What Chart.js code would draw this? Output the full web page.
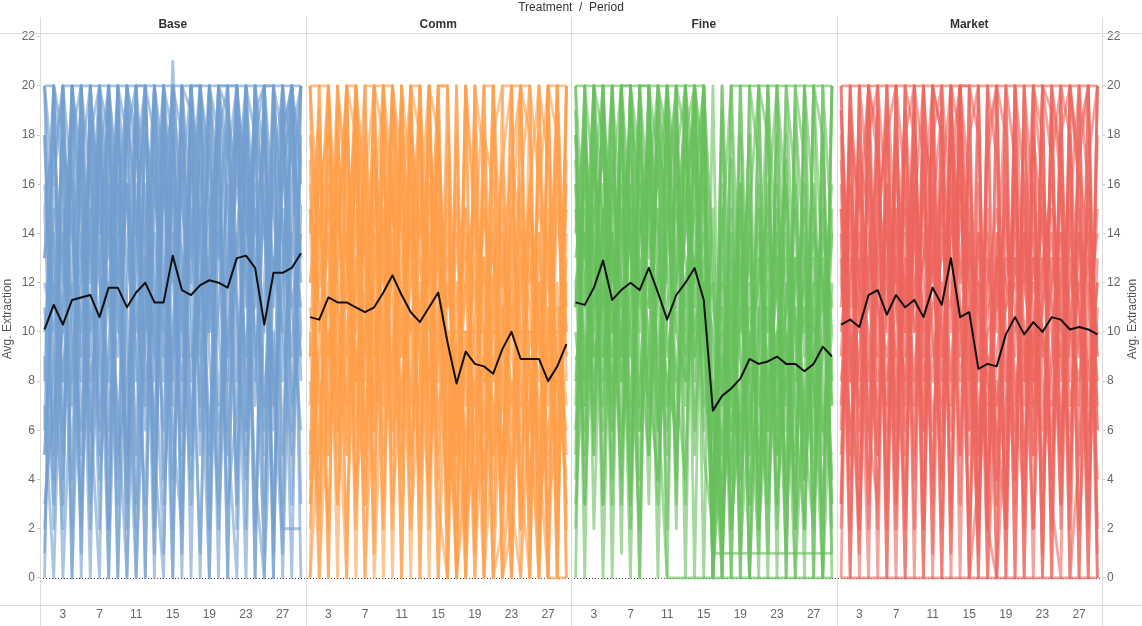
<!DOCTYPE html>
<html>
<head>
<meta charset="utf-8">
<script src="https://cdn.jsdelivr.net/npm/chart.js@4.4.1/dist/chart.umd.min.js"></script>
<style>
  html, body { margin: 0; padding: 0; background: #fff; }
  #wrap { width: 1142px; height: 626px; position: relative; }
</style>
</head>
<body>
<div id="wrap"><canvas id="chart"></canvas></div>
<script>
// treatments and periods
const treatments = ['Base', 'Comm', 'Fine', 'Market'];
const periods = [1,2,3,4,5,6,7,8,9,10,11,12,13,14,15,16,17,18,19,20,21,22,23,24,25,26,27,28,29];
const periodTicks = [3, 7, 11, 15, 19, 23, 27];
const yTicks = [0, 2, 4, 6, 8, 10, 12, 14, 16, 18, 20, 22];

// average extraction per treatment (black lines)
const avgBase   = [10.1,11.1,10.3,11.3,11.4,11.5,10.6,11.8,11.8,11.0,11.6,12.0,11.2,11.2,13.1,11.7,11.5,11.9,12.1,12.0,11.8,13.0,13.1,12.6,10.3,12.4,12.4,12.6,13.2];
const avgComm   = [10.6,10.5,11.4,11.2,11.2,11.0,10.8,11.0,11.6,12.3,11.5,10.8,10.4,11.0,11.6,9.6,7.9,9.2,8.7,8.6,8.3,9.3,10.0,8.9,8.9,8.9,8.0,8.6,9.5];
const avgFine   = [11.2,11.1,11.8,12.9,11.3,11.7,12.0,11.7,12.6,11.6,10.5,11.5,12.0,12.6,11.3,6.8,7.4,7.7,8.1,8.9,8.7,8.8,9.0,8.7,8.7,8.4,8.7,9.4,9.0];
const avgMarket = [10.3,10.5,10.2,11.5,11.7,10.7,11.5,11.0,11.3,10.6,11.8,11.1,13.0,10.6,10.8,8.5,8.7,8.6,9.9,10.6,9.9,10.4,10.0,10.6,10.5,10.1,10.2,10.1,9.9];

// individual subjects, Base
const base01 = [13,17,20,20,20,20,20,20,20,20,20,20,20,20,20,20,20,20,20,20,20,20,20,20,20,20,20,20,20];
const base02 = [5,12,8,15,10,14,6,12,9,16,11,7,14,10,21,13,8,15,12,6,10,14,9,16,3,12,15,11,14];
const base03 = [20,20,4,18,20,9,20,15,3,20,17,20,8,20,12,20,19,6,20,14,20,20,11,20,5,20,18,20,16];
const base04 = [2,9,15,0,12,18,7,20,11,5,16,0,19,8,14,3,17,10,0,15,8,19,12,4,0,10,2,2,2];
const base05 = [9,3,11,17,6,14,20,2,16,9,0,13,5,18,7,20,11,1,14,19,6,0,17,9,12,20,8,14,20];
const base06 = [15,18,12,20,16,10,13,19,14,20,8,18,16,11,20,15,12,20,17,13,19,16,20,14,18,12,20,17,15];
const base07 = [18,6,20,10,2,19,12,8,20,4,14,20,10,1,17,9,20,5,13,20,15,3,20,8,16,2,19,11,6];
const base08 = [5,14,8,13,18,3,10,16,0,12,20,6,15,20,4,12,16,20,9,3,18,11,5,20,14,7,12,20,10];
const base09 = [12,10,14,7,13,17,9,5,18,13,10,15,3,16,12,8,14,17,10,20,12,16,13,7,20,15,10,5,18];
const base10 = [20,12,5,20,8,15,2,18,12,16,5,19,12,6,18,11,3,15,20,10,5,14,19,2,11,16,20,13,9];
const base11 = [8,20,16,4,20,12,17,0,13,19,15,9,20,13,8,17,6,12,15,17,0,20,6,15,10,19,5,16,20];
const base12 = [3,7,10,12,5,20,15,11,7,0,12,16,9,20,15,5,20,14,6,11,16,8,14,18,7,13,10,20,12];
const base13 = [10,15,0,9,14,6,18,13,20,15,9,3,17,12,0,20,9,11,18,7,13,20,15,10,1,20,14,9,17];
const base14 = [16,11,18,14,9,20,5,15,10,18,20,12,6,17,19,10,15,7,20,16,9,13,20,18,15,8,16,20,13];
const base15 = [7,0,13,19,15,8,11,20,5,8,13,20,18,3,10,16,20,13,5,18,20,10,4,12,19,6,13,18,20];
const base16 = [13,20,6,11,20,16,4,9,19,11,2,14,20,9,16,13,4,19,15,2,11,18,8,20,14,11,20,7,10];
const base17 = [20,16,20,8,17,20,14,20,15,20,18,10,20,15,20,18,13,20,10,20,17,20,14,19,20,12,16,20,17];
const base18 = [11,5,17,16,3,11,19,6,14,2,19,8,11,20,6,2,18,9,12,14,3,7,18,13,6,17,0,14,11];
const base19 = [0,20,3,20,0,18,20,2,20,5,20,0,20,4,20,1,20,20,3,20,0,20,6,20,0,20,3,20,8];
const base20 = [20,2,20,0,20,4,17,20,0,20,3,20,2,20,0,20,5,20,0,20,20,2,20,0,20,1,20,6,20];
const base21 = [18,9,2,20,14,0,20,11,20,0,20,15,0,20,9,18,0,20,16,0,20,12,0,20,17,0,20,3,15];
const base22 = [6,20,18,2,20,7,0,20,16,3,20,20,5,0,20,6,20,10,20,4,13,20,2,18,20,8,1,20,0];
const base23 = [15,4,20,16,1,20,13,0,20,18,0,10,20,17,2,20,15,0,20,18,6,20,16,0,20,20,14,0,20];
const base24 = [1,16,10,20,17,2,20,18,4,20,14,20,1,20,18,0,20,16,2,20,19,4,20,11,20,0,18,20,3];

// individual subjects, Comm
const comm01 = [20,20,20,14,20,20,8,20,20,20,15,20,20,12,20,20,5,20,14,20,20,9,20,20,20,16,20,20,20];
const comm02 = [0,6,12,3,10,15,0,9,14,5,11,2,8,13,0,10,0,4,8,0,6,11,3,0,7,12,0,0,0];
const comm03 = [12,15,9,18,13,8,16,11,6,19,14,10,15,7,17,3,9,14,6,13,2,10,15,8,4,11,5,15,10];
const comm04 = [8,4,16,10,5,13,11,17,9,14,6,17,10,16,12,7,2,10,0,9,14,5,12,6,13,2,9,4,12];
const comm05 = [15,11,5,14,18,10,14,6,17,12,20,8,5,18,14,9,12,5,11,16,8,14,7,12,15,6,13,9,15];
const comm06 = [5,17,13,7,15,4,18,13,2,16,9,14,19,4,10,15,6,12,16,3,12,17,10,15,0,14,7,12,5];
const comm07 = [10,0,8,16,9,17,6,15,12,8,17,5,11,14,6,12,8,0,9,13,5,7,14,3,10,8,15,2,14];
const comm08 = [18,13,20,11,7,14,20,4,15,11,3,19,13,9,16,0,10,15,3,7,15,0,5,13,11,4,10,20,8];
const comm09 = [3,9,11,20,16,6,10,18,12,20,13,10,7,20,8,14,5,9,12,10,4,13,9,7,15,10,3,6,16];
const comm10 = [14,19,6,9,12,20,13,9,17,6,19,13,16,11,20,6,14,7,10,15,11,3,16,10,6,17,12,9,3];
const comm11 = [9,12,15,12,2,11,16,20,8,13,9,15,4,15,11,3,7,12,5,6,10,15,4,9,14,5,0,11,7];
const comm12 = [16,7,10,5,19,9,3,12,19,15,11,7,18,10,13,9,0,6,14,11,0,9,12,16,8,0,11,5,13];
const comm13 = [12,16,18,15,11,16,12,14,10,17,12,18,14,17,13,11,15,13,15,12,13,12,17,14,12,15,13,17,11];
const comm14 = [6,3,9,13,20,7,15,10,5,9,16,4,12,8,15,5,8,2,6,9,7,4,8,5,9,3,6,8,4];
const comm15 = [20,14,17,8,13,19,9,16,14,3,8,12,20,6,9,17,3,10,7,15,13,8,0,11,16,9,14,0,20];
const comm16 = [11,8,2,17,6,12,17,7,20,12,5,16,9,3,18,8,11,15,9,4,12,16,6,14,3,12,8,16,9];
const comm17 = [7,13,9,11,14,8,12,6,15,9,12,10,13,8,11,10,10,10,10,10,10,10,10,10,10,10,10,10,10];
const comm18 = [2,10,14,6,8,18,5,13,11,16,7,13,6,11,4,13,6,8,13,2,9,5,11,2,7,14,4,9,6];
const comm19 = [20,0,20,3,20,0,20,2,20,0,20,5,20,0,20,20,0,20,2,20,0,20,20,0,20,4,20,0,20];
const comm20 = [0,20,5,20,0,20,4,20,0,18,0,20,0,20,3,0,20,0,20,0,20,0,2,20,0,20,0,20,0];
const comm21 = [17,5,20,8,0,20,14,1,20,16,0,20,8,20,0,18,0,20,15,0,18,20,0,16,20,0,20,18,2];
const comm22 = [4,18,0,20,15,2,20,20,3,20,17,0,20,5,19,2,16,1,20,17,0,2,20,4,0,20,17,0,20];
const comm23 = [20,10,16,0,20,18,0,15,20,2,20,16,3,20,18,10,4,20,0,18,16,0,14,20,2,18,0,20,0];
const comm24 = [9,20,0,19,5,20,16,0,10,20,4,20,18,2,20,0,20,2,18,4,20,12,0,20,18,1,20,3,17];
const comm25 = [15,2,18,12,20,3,9,20,18,6,20,3,15,20,5,20,8,13,1,20,5,17,20,2,16,20,8,20,10];
const comm26 = [3,14,20,6,12,20,3,18,7,20,10,20,0,16,13,4,18,0,20,8,20,3,17,20,7,0,20,6,20];

// individual subjects, Fine
const fine01 = [20,20,20,20,20,20,20,20,20,20,20,20,20,20,20,6,14,20,20,20,20,20,20,20,20,20,20,20,20];
const fine02 = [12,5,18,9,15,3,17,11,20,7,0,0,0,0,0,0,0,0,0,0,0,0,0,0,0,0,0,0,0];
const fine03 = [8,14,10,20,12,16,9,18,13,15,6,17,20,11,14,1,1,1,1,1,1,1,1,1,1,1,1,1,1];
const fine04 = [15,9,13,6,18,11,14,7,16,20,12,8,15,19,9,4,10,2,7,12,5,9,14,3,8,11,6,15,10];
const fine05 = [4,17,6,15,9,20,5,13,10,3,15,20,7,12,18,0,6,12,3,9,15,4,10,13,2,7,12,5,14];
const fine06 = [18,11,20,14,7,13,19,16,6,12,18,10,14,20,16,9,3,8,14,0,10,16,7,11,15,6,2,13,8];
const fine07 = [10,6,15,17,13,8,12,20,15,9,13,16,11,18,5,2,11,5,10,13,6,12,3,9,13,10,16,8,3];
const fine08 = [14,19,8,12,4,17,10,2,19,14,7,13,18,6,12,7,0,13,9,5,14,8,15,6,10,4,9,14,11];
const fine09 = [6,12,16,3,14,9,15,12,11,17,10,5,12,15,20,11,8,4,12,16,2,7,12,17,5,13,8,0,9];
const fine10 = [17,3,12,18,10,15,7,14,17,8,14,19,9,13,11,3,13,7,15,9,12,15,5,8,12,15,10,11,16];
const fine11 = [11,15,9,11,20,6,16,9,5,13,9,12,16,8,15,5,4,10,6,11,8,3,9,14,7,2,13,6,5];
const fine12 = [9,8,14,7,16,12,3,15,12,6,16,8,4,17,10,12,7,15,1,7,13,10,12,4,16,9,14,12,7];
const fine13 = [16,13,5,15,8,18,14,6,9,19,12,15,13,10,13,0,15,2,8,14,4,11,8,16,10,12,5,9,14];
const fine14 = [3,10,17,11,14,5,11,16,14,11,5,18,10,15,7,8,2,9,13,3,9,14,6,10,3,14,7,16,2];
const fine15 = [13,16,11,19,10,14,18,10,15,16,20,11,17,12,16,2,9,6,11,8,16,6,13,7,11,5,11,3,12];
const fine16 = [7,18,13,8,17,10,6,19,8,4,11,14,19,9,12,10,5,11,4,10,7,13,2,12,8,16,3,10,15];
const fine17 = [19,7,15,13,6,20,13,4,17,12,8,6,15,20,10,4,12,0,16,6,11,1,16,9,0,8,15,6,10];
const fine18 = [12,14,7,16,11,9,20,12,7,18,15,10,8,13,19,6,1,10,5,15,3,8,10,1,13,6,9,12,4];
const fine19 = [20,0,20,3,20,1,20,0,20,4,20,2,20,0,20,0,20,0,18,0,20,3,20,0,20,2,20,0,20];
const fine20 = [0,20,5,20,0,20,2,20,5,20,0,20,3,20,0,20,0,20,0,20,2,20,0,18,0,20,0,20,0];
const fine21 = [16,3,20,18,6,20,15,0,20,13,20,4,20,16,20,0,19,6,20,3,20,18,5,20,16,0,20,18,3];
const fine22 = [5,20,2,14,20,8,20,17,3,20,16,20,0,20,6,15,2,20,10,18,0,20,12,3,20,17,0,20,14];
const fine23 = [20,13,20,0,16,20,3,20,20,6,20,12,20,5,20,0,8,14,0,20,17,0,20,15,2,20,15,0,20];
const fine24 = [11,20,16,20,3,20,20,6,20,17,2,20,18,20,10,2,20,10,16,0,11,20,3,20,10,4,20,12,1];
const fine25 = [18,7,20,9,20,14,0,20,11,20,18,3,20,9,20,13,0,17,4,15,20,6,18,0,19,13,3,18,7];
const fine26 = [2,18,9,20,12,4,20,14,18,0,20,16,8,20,17,1,16,3,20,8,1,15,20,10,4,20,8,2,20];

// individual subjects, Market
const mkt01 = [20,20,20,20,20,20,20,20,20,20,20,20,20,20,20,20,20,20,20,20,20,20,20,20,20,20,20,20,20];
const mkt02 = [0,0,0,0,0,0,0,0,0,0,0,0,0,0,0,0,0,0,0,0,0,0,0,0,0,0,0,0,0];
const mkt03 = [10,14,8,17,12,6,15,11,18,9,13,16,7,19,12,5,9,3,12,15,8,13,10,6,14,11,7,16,9];
const mkt04 = [16,5,12,20,9,15,3,14,7,17,10,4,20,11,2,12,6,13,9,4,15,7,16,12,3,18,10,5,13];
const mkt05 = [3,18,15,6,14,19,11,8,16,2,15,19,12,5,15,8,14,0,7,13,10,2,11,17,9,6,14,12,4];
const mkt06 = [12,9,2,13,17,10,18,5,12,14,6,11,16,8,11,3,10,11,15,8,3,16,8,4,12,15,2,9,15];
const mkt07 = [19,11,14,9,5,13,7,16,10,13,18,9,14,17,6,14,0,8,4,17,12,9,13,15,6,10,17,13,8];
const mkt08 = [7,15,10,11,19,4,14,12,5,20,12,15,8,15,10,6,12,15,10,6,14,11,4,9,16,8,12,3,11];
const mkt09 = [14,2,17,15,8,16,12,19,13,6,16,7,18,12,17,10,4,9,13,11,7,18,14,10,5,13,9,15,7];
const mkt10 = [5,13,11,8,16,12,9,3,15,12,8,14,10,20,13,11,8,6,2,16,10,5,12,16,11,4,15,8,12];
const mkt11 = [11,17,6,14,11,7,17,10,19,8,11,13,15,9,14,5,13,10,16,7,12,14,6,13,10,17,5,11,14];
const mkt12 = [17,8,13,3,15,18,6,13,8,15,20,10,6,16,8,14,7,13,11,14,5,10,15,7,18,9,12,14,6];
const mkt13 = [8,12,16,12,6,11,15,9,14,11,4,17,13,11,5,9,15,4,14,9,16,8,11,14,8,12,14,6,10];
const mkt14 = [13,6,9,16,13,8,11,15,10,13,15,8,19,13,9,2,11,12,8,13,9,12,10,5,13,7,10,13,9];
const mkt15 = [9,16,12,10,7,14,9,18,11,16,9,12,11,16,12,7,5,14,12,10,14,6,13,11,9,14,11,7,12];
const mkt16 = [15,10,7,13,11,9,13,7,16,10,13,6,15,10,13,12,9,7,11,12,8,13,9,12,14,10,8,12,10];
const mkt17 = [0,20,2,20,0,20,3,20,0,20,1,20,0,20,0,20,2,20,0,20,0,20,0,20,3,20,0,20,0];
const mkt18 = [20,0,20,4,20,0,20,0,20,2,20,0,20,0,20,0,20,0,20,0,20,5,20,0,20,0,20,2,20];
const mkt19 = [18,4,20,16,2,20,14,0,20,17,3,20,15,20,0,16,2,20,18,0,20,15,1,20,17,2,20,16,0];
const mkt20 = [3,20,12,0,20,15,2,20,18,0,20,18,3,20,16,0,20,4,20,17,2,20,18,3,0,20,16,0,20];
const mkt21 = [12,16,0,20,18,3,20,16,2,20,14,4,20,18,6,20,0,14,2,20,16,0,20,17,20,3,18,20,6];
const mkt22 = [20,8,18,2,13,20,5,18,20,4,18,20,1,20,20,3,17,20,0,18,4,20,16,2,20,18,0,17,20];
const mkt23 = [6,20,4,18,20,0,20,6,15,20,0,16,20,3,18,20,2,0,17,3,20,8,20,19,2,15,20,4,18];
const mkt24 = [15,0,20,6,3,18,20,2,17,0,20,2,17,20,0,4,18,20,5,20,0,18,3,20,16,0,5,20,2];
const mkt25 = [2,19,15,20,5,16,0,20,4,18,16,0,20,5,20,18,3,12,20,4,18,2,20,0,18,20,16,0,20];
const mkt26 = [19,10,1,20,17,2,18,10,20,6,20,18,2,20,10,1,20,17,2,20,12,20,0,19,5,20,17,20,1];

const subjects = [
  [base01,base02,base03,base04,base05,base06,base07,base08,base09,base10,base11,base12,base13,base14,base15,base16,base17,base18,base19,base20,base21,base22,base23,base24],
  [comm01,comm02,comm03,comm04,comm05,comm06,comm07,comm08,comm09,comm10,comm11,comm12,comm13,comm14,comm15,comm16,comm17,comm18,comm19,comm20,comm21,comm22,comm23,comm24,comm25,comm26],
  [fine01,fine02,fine03,fine04,fine05,fine06,fine07,fine08,fine09,fine10,fine11,fine12,fine13,fine14,fine15,fine16,fine17,fine18,fine19,fine20,fine21,fine22,fine23,fine24,fine25,fine26],
  [mkt01,mkt02,mkt03,mkt04,mkt05,mkt06,mkt07,mkt08,mkt09,mkt10,mkt11,mkt12,mkt13,mkt14,mkt15,mkt16,mkt17,mkt18,mkt19,mkt20,mkt21,mkt22,mkt23,mkt24,mkt25,mkt26]
];
const averages = [avgBase, avgComm, avgFine, avgMarket];
const colors = ['114,158,206', '255,158,74', '103,191,92', '237,102,93'];

const span = periods.length; // one panel = 29 periods wide on the x scale

const toPoints = (vals, k) => vals.map((v, i) => ({ x: k * span + periods[i], y: v }));

const datasets = [];
treatments.forEach((t, k) => {
  datasets.push({
    label: t + ' avg',
    data: toPoints(averages[k], k),
    borderColor: '#111',
    borderWidth: 2,
    borderJoinStyle: 'round',
    pointRadius: 0,
    order: 0,
  });
  subjects[k].forEach((s, j) => {
    datasets.push({
      label: t + ' ' + (j + 1),
      data: toPoints(s, k),
      borderColor: 'rgba(' + colors[k] + ',0.6)',
      borderWidth: 2.8,
      borderJoinStyle: 'round',
      pointRadius: 0,
      order: 1,
    });
  });
});

const facets = {
  id: 'facets',
  beforeDatasetsDraw(chart) {
    const { ctx, chartArea: { left, right }, scales: { y } } = chart;
    ctx.save();
    // zero line
    ctx.strokeStyle = '#444';
    ctx.lineWidth = 1;
    ctx.setLineDash([1, 2]);
    const y0 = Math.round(y.getPixelForValue(0)) + 0.5;
    ctx.beginPath();
    ctx.moveTo(left, y0);
    ctx.lineTo(right, y0);
    ctx.stroke();
    ctx.restore();
  },
  afterDraw(chart) {
    const { ctx, width, height, chartArea: { left, right, top, bottom }, scales: { x } } = chart;
    ctx.save();
    ctx.strokeStyle = '#dcdcdc';
    ctx.lineWidth = 1;
    ctx.beginPath();
    ctx.moveTo(0, Math.round(top) + 0.5);
    ctx.lineTo(width, Math.round(top) + 0.5);
    ctx.moveTo(0, Math.round(bottom) + 0.5);
    ctx.lineTo(width, Math.round(bottom) + 0.5);
    for (let k = 0; k <= treatments.length; k++) {
      const px = Math.round(x.getPixelForValue(k * span + 0.5)) + 0.5;
      ctx.moveTo(px, 17);
      ctx.lineTo(px, height);
    }
    ctx.stroke();

    ctx.fillStyle = '#333';
    ctx.textAlign = 'center';
    ctx.textBaseline = 'middle';
    ctx.font = '12px "Liberation Sans", Arial, sans-serif';
    ctx.fillText('Treatment  /  Period', (left + right) / 2, 8);
    ctx.font = 'bold 12px "Liberation Sans", Arial, sans-serif';
    treatments.forEach((t, k) => {
      const cx = x.getPixelForValue(k * span + 15);
      ctx.fillText(t, cx, 25);
    });

    // right axis title, reading bottom to top like the left one
    ctx.fillStyle = '#555';
    ctx.font = '12px "Liberation Sans", Arial, sans-serif';
    ctx.translate(1133, (top + bottom) / 2);
    ctx.rotate(-Math.PI / 2);
    ctx.fillText('Avg. Extraction', 0, 0);
    ctx.restore();
  },
};

const tickFont = { family: '"Liberation Sans", Arial, sans-serif', size: 12 };

new Chart(document.getElementById('chart'), {
  type: 'line',
  data: { datasets },
  plugins: [facets],
  options: {
    responsive: true,
    maintainAspectRatio: false,
    animation: false,
    layout: { padding: { top: 33, left: 0, right: 0, bottom: 0 } },
    plugins: {
      legend: { display: false },
      tooltip: { enabled: false },
    },
    elements: { line: { tension: 0 } },
    scales: {
      x: {
        type: 'linear',
        min: 0.5,
        max: treatments.length * span + 0.5,
        afterBuildTicks(scale) {
          const ticks = [];
          treatments.forEach((t, k) => periodTicks.forEach((p) => ticks.push({ value: k * span + p })));
          scale.ticks = ticks;
        },
        afterFit(scale) { scale.height = 21; },
        ticks: {
          autoSkip: false,
          maxRotation: 0,
          padding: 2,
          color: '#666',
          font: tickFont,
          callback: (v) => v - Math.floor((v - 0.5) / span) * span,
        },
        grid: { display: false, drawTicks: false, tickLength: 0 },
        border: { display: false },
      },
      y: {
        position: 'left',
        min: -1.1,
        max: 22.15,
        afterBuildTicks(scale) { scale.ticks = yTicks.map((v) => ({ value: v })); },
        afterFit(scale) { scale.width = 40; },
        title: {
          display: true,
          text: 'Avg. Extraction',
          color: '#555',
          font: tickFont,
          padding: { top: 0, bottom: 0 },
        },
        ticks: { color: '#666', font: tickFont, padding: 2 },
        grid: { drawOnChartArea: false, tickLength: 3, color: '#ccc' },
        border: { display: false },
      },
      y2: {
        position: 'right',
        min: -1.1,
        max: 22.15,
        afterBuildTicks(scale) { scale.ticks = yTicks.map((v) => ({ value: v })); },
        afterFit(scale) { scale.width = 40; },
        ticks: { color: '#666', font: tickFont, padding: 2 },
        grid: { drawOnChartArea: false, tickLength: 3, color: '#ccc' },
        border: { display: false },
      },
    },
  },
});
</script>
</body>
</html>
